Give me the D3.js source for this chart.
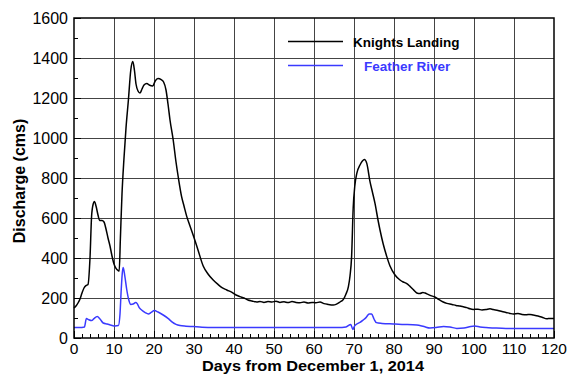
<!DOCTYPE html>
<html>
<head>
<meta charset="utf-8">
<script src="https://cdn.jsdelivr.net/npm/d3@7"></script>
<style>
  html, body { margin: 0; padding: 0; background: #fff; }
  svg { display: block; font-family: Arial, "Liberation Sans", sans-serif; }
</style>
</head>
<body>
<svg id="chart" width="570" height="377"></svg>
<script>
// Knights Landing discharge (cms) by day from December 1, 2014
const klDays = [0,0.5,1,1.5,2,2.5,3,3.5,4,4.4,4.8,5.1,5.5,6,6.4,7,7.5,8,8.5,9,9.5,10,10.5,11,11.3,11.6,12,12.5,13,13.6,14.2,14.7,15.1,15.5,16,16.5,17,17.5,18.2,18.8,19.7,20.3,21,21.8,22.4,23,23.5,24,24.8,25.5,26.1,26.9,27.5,28.2,29,30.2,31,32.3,33.5,34.8,36,37,38.2,39.5,40.5,41.5,42.5,43.5,44.5,45.7,46.5,47.5,48.5,49.5,50.5,51.5,52.5,53.5,54.5,55.5,56.5,57.5,58.5,59.5,60.5,61.5,62.5,63.5,64.8,65.5,66.5,67.3,68,68.6,69,69.4,69.8,70.2,70.7,71.5,72.1,72.6,73.2,74,74.6,75.25,76,76.5,77.3,78.2,79,80.25,81.5,82.3,83.2,84,85,85.7,86.5,87.2,87.75,88.5,89.2,90.2,91,92.3,93.2,94.5,95.5,96.5,97.5,98.2,99,99.8,101,102,103,104,104.8,106,107,108,109,109.8,111,112,113,114,114.8,116,117,118.2,119,120];
const klFlow = [150,160,175,195,225,250,262,268,400,610,670,682,660,615,588,588,580,545,500,460,410,370,348,338,335,500,720,900,1050,1190,1340,1382,1340,1270,1235,1225,1245,1265,1273,1265,1260,1285,1297,1292,1280,1240,1170,1090,990,880,800,707,660,607,560,490,440,360,320,290,268,252,240,228,215,207,200,190,185,180,183,178,182,180,184,178,181,177,182,178,176,180,175,178,176,180,172,168,165,168,180,192,220,257,310,407,650,760,823,865,885,893,873,782,730,673,590,540,470,407,360,315,290,280,272,258,238,225,222,228,225,218,212,205,195,180,173,168,163,160,155,152,146,143,144,140,142,146,142,138,132,128,123,120,122,118,116,118,115,110,104,96,98,98];

// Feather River discharge (cms)
const frDays = [0,1,2,2.6,3.1,3.6,4.4,5,5.8,6.5,7.3,8.3,9.3,10.25,11.1,11.5,11.8,12.1,12.3,12.7,13.2,13.7,14.2,14.8,15.4,15.8,16.3,16.9,17.8,18.6,19.3,20.1,21,22.3,23.5,24.4,25.5,26.5,28,29.8,32,35,40,50,60,66,68,69.2,69.7,70.2,70.7,71.5,72.3,73,73.8,74.4,75,75.6,77,79.8,82,85.7,87.5,89,90.5,92.4,94,95.7,97.5,99.2,100.2,101.5,103,105,108,120];
const frFlow = [53,53,53,55,97,92,87,97,107,95,75,70,64,60,62,120,240,330,353,310,240,190,168,170,177,172,152,140,127,120,128,137,130,115,98,82,68,62,59,57,54,53,53,52,52,52,55,68,43,62,70,78,90,102,120,120,95,77,73,70,68,65,57,50,52,58,55,48,50,58,60,55,52,50,48,48];

const xTicks = [0,10,20,30,40,50,60,70,80,90,100,110,120];
const yTicks = [0,200,400,600,800,1000,1200,1400,1600];
const seriesNames = ["Knights Landing", "Feather River"];
const seriesColors = ["#000000", "#3a3aff"];

const svg = d3.select("#chart");
const m = { left: 74, right: 554, top: 18, bottom: 338 };

const x = d3.scaleLinear().domain([0, 120]).range([m.left, m.right]);
const y = d3.scaleLinear().domain([0, 1600]).range([m.bottom, m.top]);

// grid
const grid = svg.append("g");
grid.selectAll("line.vx").data(xTicks.slice(1, -1)).enter().append("line")
  .attr("x1", d => Math.round(x(d)) + 0.5).attr("x2", d => Math.round(x(d)) + 0.5)
  .attr("y1", m.top).attr("y2", m.bottom)
  .attr("stroke", "#444").attr("stroke-width", 1);
grid.selectAll("line.hy").data(yTicks.slice(1, -1)).enter().append("line")
  .attr("y1", d => Math.round(y(d)) + 0.5).attr("y2", d => Math.round(y(d)) + 0.5)
  .attr("x1", m.left).attr("x2", m.right)
  .attr("stroke", "#444").attr("stroke-width", 1);

// axes with inward ticks
const xAxis = svg.append("g").attr("transform", `translate(0,${m.bottom})`)
  .call(d3.axisBottom(x).tickValues(d3.range(0, 121, 2)).tickSize(-4).tickFormat(""));
xAxis.select(".domain").remove();
xAxis.selectAll(".tick line").filter(d => d % 10 === 0).attr("y2", -7);

const yAxis = svg.append("g").attr("transform", `translate(${m.left},0)`)
  .call(d3.axisLeft(y).tickValues(d3.range(0, 1601, 100)).tickSize(-4).tickFormat(""));
yAxis.select(".domain").remove();
yAxis.selectAll(".tick line").filter(d => d % 200 === 0).attr("x2", 7);

// tick labels
svg.append("g").selectAll("text").data(xTicks).enter().append("text")
  .attr("x", d => x(d)).attr("y", 353.5)
  .attr("text-anchor", "middle").attr("font-size", 15.5).attr("fill", "#000")
  .text(d => d);
svg.append("g").selectAll("text").data(yTicks).enter().append("text")
  .attr("x", 68).attr("y", d => y(d) + 6)
  .attr("text-anchor", "end").attr("font-size", 16).attr("fill", "#000")
  .text(d => d);

// series
const line = (xs, vs) => d3.line()
  .x((d, i) => x(xs[i])).y((d, i) => y(vs[i]))
  .curve(d3.curveMonotoneX)(vs);

svg.append("path").attr("d", line(frDays, frFlow))
  .attr("fill", "none").attr("stroke", seriesColors[1]).attr("stroke-width", 1.5);
svg.append("path").attr("d", line(klDays, klFlow))
  .attr("fill", "none").attr("stroke", seriesColors[0]).attr("stroke-width", 1.5);

// frame
svg.append("rect").attr("x", m.left).attr("y", m.top)
  .attr("width", m.right - m.left).attr("height", m.bottom - m.top)
  .attr("fill", "none").attr("stroke", "#000").attr("stroke-width", 1.5);

// legend
const legY = [41.5, 65.5];
const legTextX = [353, 364];
seriesNames.forEach((name, i) => {
  svg.append("line").attr("x1", 288).attr("x2", 343)
    .attr("y1", legY[i]).attr("y2", legY[i])
    .attr("stroke", seriesColors[i]).attr("stroke-width", 1.5);
  svg.append("text").attr("x", legTextX[i]).attr("y", legY[i] + 5)
    .attr("font-size", 13.5).attr("font-weight", "bold")
    .attr("fill", i === 0 ? "#000" : seriesColors[i])
    .text(name);
});

// axis titles
svg.append("text").attr("x", 313).attr("y", 371)
  .attr("text-anchor", "middle").attr("font-size", 15).attr("font-weight", "bold")
  .attr("textLength", 222).attr("lengthAdjust", "spacingAndGlyphs")
  .text("Days from December 1, 2014");
svg.append("text").attr("transform", "translate(25,181) rotate(-90)")
  .attr("text-anchor", "middle").attr("font-size", 16).attr("font-weight", "bold")
  .text("Discharge (cms)");
</script>
</body>
</html>
